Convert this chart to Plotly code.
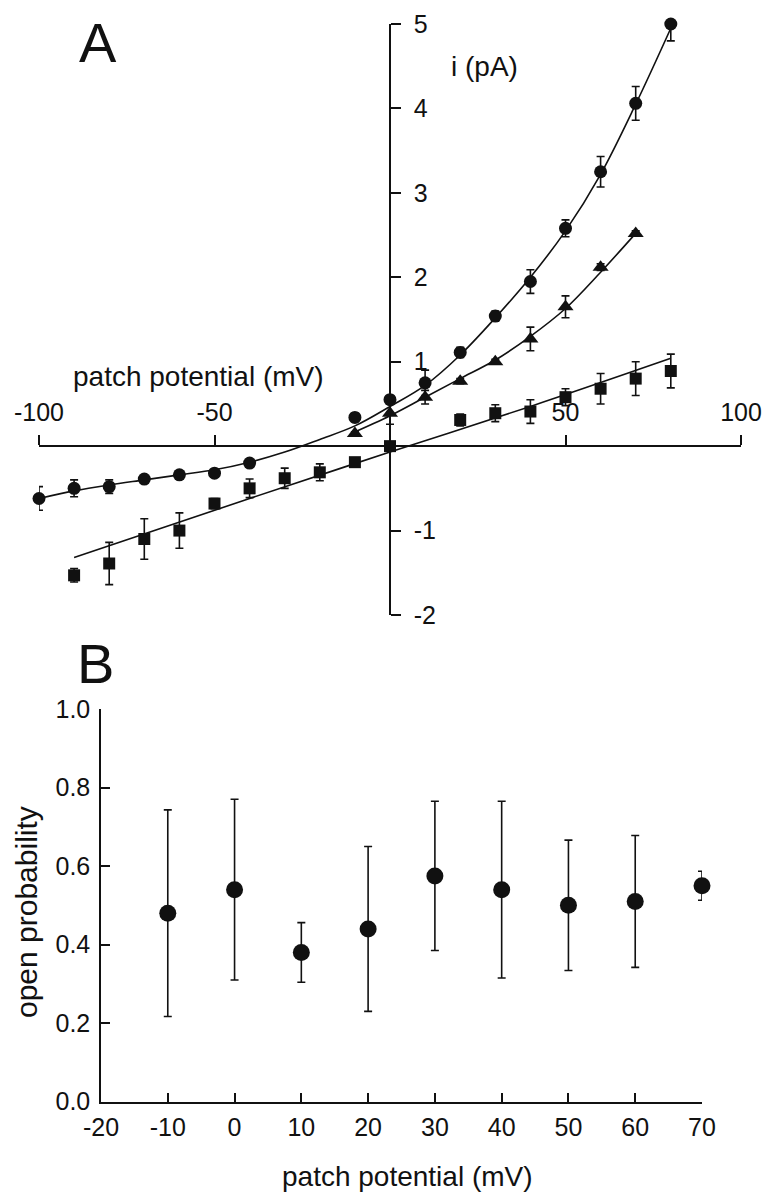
import plotly.graph_objects as go

# ---------------- Panel A data (patch potential mV, current pA) ----------------
v_circle = [-100, -90, -80, -70, -60, -50, -40, -10, 0, 10, 20, 30, 40, 50, 60, 70, 80]
i_circle = [-0.62, -0.50, -0.48, -0.39, -0.34, -0.32, -0.20, 0.34, 0.55, 0.75, 1.11, 1.54, 1.95, 2.58, 3.25, 4.06, 5.00]
e_circle = [0.14, 0.10, 0.08, 0.03, 0.03, 0.03, 0.03, 0.05, 0.05, 0.15, 0.06, 0.06, 0.14, 0.10, 0.18, 0.20, 0.20]

v_tri = [-10, 0, 10, 20, 30, 40, 50, 60, 70]
i_tri = [0.15, 0.39, 0.58, 0.77, 1.00, 1.27, 1.65, 2.12, 2.52]
e_tri = [0.02, 0.13, 0.08, 0.03, 0.03, 0.14, 0.13, 0.04, 0.03]

v_sq = [-90, -80, -70, -60, -50, -40, -30, -20, -10, 0, 20, 30, 40, 50, 60, 70, 80]
i_sq = [-1.53, -1.39, -1.10, -1.00, -0.68, -0.50, -0.38, -0.31, -0.19, 0.00, 0.31, 0.39, 0.41, 0.58, 0.68, 0.80, 0.89]
e_sq = [0.08, 0.25, 0.24, 0.21, 0.06, 0.11, 0.12, 0.10, 0.04, 0.04, 0.07, 0.10, 0.14, 0.10, 0.18, 0.20, 0.20]

# fitted curves
fit_circle_v = [-100, -90, -80, -70, -60, -50, -40, -30, -20, -10, 0, 10, 20, 30, 40, 50, 60, 70, 80]
fit_circle_i = [-0.62, -0.53, -0.46, -0.40, -0.34, -0.28, -0.19, -0.07, 0.08, 0.24, 0.47, 0.72, 1.08, 1.52, 2.00, 2.55, 3.22, 4.05, 4.95]

fit_tri_v = [-11, 0, 10, 20, 30, 40, 50, 60, 70]
fit_tri_i = [0.15, 0.36, 0.58, 0.80, 1.02, 1.30, 1.63, 2.06, 2.52]

fit_sq_v = [-90, -40, 0, 40, 80]
fit_sq_i = [-1.32, -0.62, -0.07, 0.47, 1.04]

# ---------------- Panel B data ----------------
vb = [-10, 0, 10, 20, 30, 40, 50, 60, 70]
po = [0.48, 0.54, 0.38, 0.44, 0.575, 0.54, 0.50, 0.51, 0.55]
po_err = [0.263, 0.23, 0.076, 0.21, 0.19, 0.225, 0.166, 0.168, 0.037]

xa_ticks = [-100, -50, 50, 100]
ya_ticks = [-2, -1, 1, 2, 3, 4, 5]
xb_ticks = [-20, -10, 0, 10, 20, 30, 40, 50, 60, 70]
yb_ticks = [0.0, 0.2, 0.4, 0.6, 0.8, 1.0]

W, H = 770, 1199
FONT = "Liberation Sans, Arial, Helvetica, sans-serif"
INK = "#111111"


def px(x):
    return x / W


def py(y):
    return 1 - y / H


fig = go.Figure()

line_style = dict(color=INK, width=1.6)
for fv, fi in [(fit_circle_v, fit_circle_i), (fit_tri_v, fit_tri_i), (fit_sq_v, fit_sq_i)]:
    fig.add_trace(go.Scatter(x=fv, y=fi, mode="lines", line=dict(shape="spline", **line_style),
                             xaxis="x", yaxis="y", showlegend=False, hoverinfo="skip"))

for v, i, e, sym, sz in [(v_circle, i_circle, e_circle, "circle", 13),
                         (v_tri, i_tri, e_tri, "triangle-up", 14),
                         (v_sq, i_sq, e_sq, "square", 12)]:
    fig.add_trace(go.Scatter(x=v, y=i, mode="markers",
                             marker=dict(symbol=sym, size=sz, color=INK, line=dict(width=0)),
                             error_y=dict(type="data", array=e, visible=True, color=INK,
                                          thickness=1.6, width=4),
                             xaxis="x", yaxis="y", showlegend=False, cliponaxis=False))

fig.add_trace(go.Scatter(x=vb, y=po, mode="markers",
                         marker=dict(symbol="circle", size=17, color=INK, line=dict(width=0)),
                         error_y=dict(type="data", array=po_err, visible=True, color=INK,
                                      thickness=1.6, width=4),
                         xaxis="x2", yaxis="y2", showlegend=False, cliponaxis=False))

axis_common = dict(showgrid=False, zeroline=False, showline=True, linecolor=INK, linewidth=1.5,
                   tickcolor=INK, tickwidth=1.5, automargin=False,
                   tickfont=dict(family=FONT, size=25, color=INK))

fig.update_layout(
    width=W, height=H,
    margin=dict(l=0, r=0, t=0, b=0),
    paper_bgcolor="white", plot_bgcolor="rgba(0,0,0,0)",
    xaxis=dict(domain=[px(39), px(741)], range=[-100, 100], anchor="free", position=py(446),
               side="top", ticks="outside", ticklen=10, tickvals=xa_ticks,
               ticktext=[str(t) for t in xa_ticks], ticklabelstandoff=4, **axis_common),
    yaxis=dict(domain=[py(615), py(24)], range=[-2, 5], anchor="free", position=px(390),
               side="right", ticks="outside", ticklen=10, tickvals=ya_ticks,
               ticktext=[str(t) for t in ya_ticks], ticklabelstandoff=8, **axis_common),
    xaxis2=dict(domain=[px(101), px(702)], range=[-20, 70], anchor="y2", side="bottom",
                ticks="inside", ticklen=9, tickvals=xb_ticks,
                ticktext=[str(t) for t in xb_ticks], ticklabelstandoff=3, **axis_common),
    yaxis2=dict(domain=[py(1101.7), py(709)], range=[0, 1], anchor="x2", side="left",
                ticks="inside", ticklen=9, tickvals=yb_ticks,
                ticktext=[f"{t:.1f}" for t in yb_ticks], ticklabelstandoff=4, **axis_common),
)

ann_font = dict(family=FONT, size=28, color=INK)
fig.add_annotation(x=px(98), y=py(42), xref="paper", yref="paper", text="A", showarrow=False,
                   font=dict(family=FONT, size=56, color=INK), xanchor="center", yanchor="middle")
fig.add_annotation(x=px(95), y=py(663), xref="paper", yref="paper", text="B", showarrow=False,
                   font=dict(family=FONT, size=56, color=INK), xanchor="center", yanchor="middle")
fig.add_annotation(x=px(199), y=py(376), xref="paper", yref="paper", text="patch potential (mV)",
                   showarrow=False, font=ann_font, xanchor="center", yanchor="middle")
fig.add_annotation(x=px(484), y=py(66), xref="paper", yref="paper", text="i (pA)",
                   showarrow=False, font=ann_font, xanchor="center", yanchor="middle")
fig.add_annotation(x=px(407), y=py(1176), xref="paper", yref="paper", text="patch potential (mV)",
                   showarrow=False, font=ann_font, xanchor="center", yanchor="middle")
fig.add_annotation(x=px(26), y=py(912), xref="paper", yref="paper", text="open probability",
                   showarrow=False, font=dict(family=FONT, size=30, color=INK),
                   xanchor="center", yanchor="middle", textangle=-90)

fig.write_html("out.html",
               config={"displayModeBar": False},
               post_script="document.body.style.margin='0';document.body.style.padding='0';"
                           "document.documentElement.style.overflow='hidden';")
